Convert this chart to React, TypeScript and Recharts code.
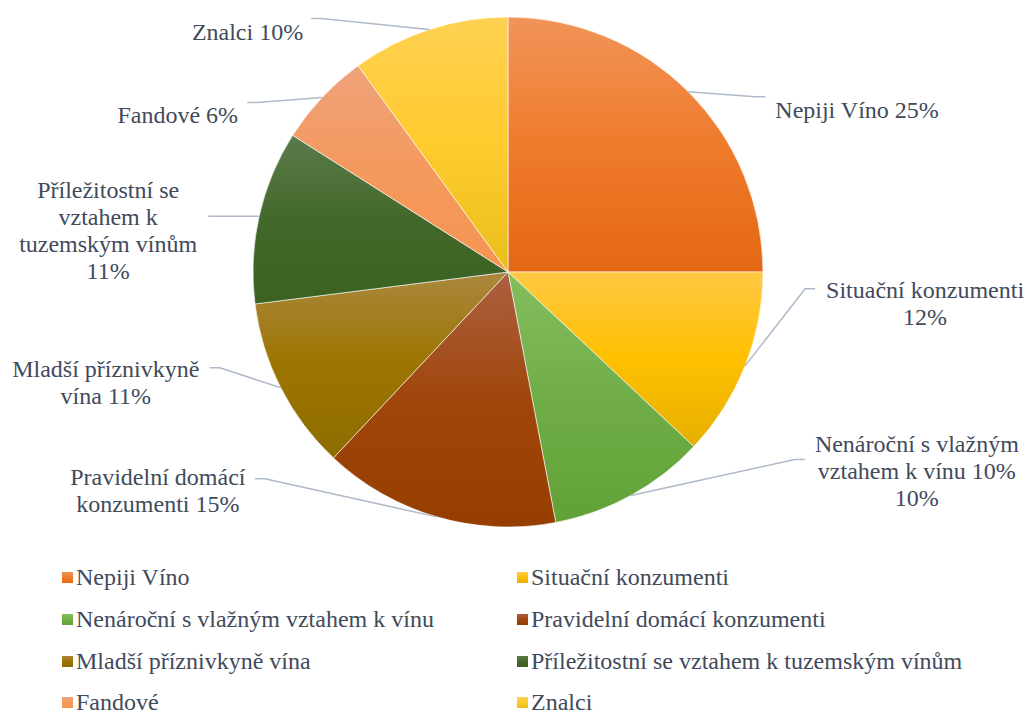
import React from "react";
import { PieChart, Pie, Cell, Legend } from "recharts";

const CATEGORIES = [
  "Nepiji Víno",
  "Situační konzumenti",
  "Nenároční s vlažným vztahem k vínu",
  "Pravidelní domácí konzumenti",
  "Mladší příznivkyně vína",
  "Příležitostní se vztahem k tuzemským vínům",
  "Fandové",
  "Znalci",
];
const VALUES = [25, 12, 10, 15, 11, 11, 6, 10];
const LABEL_LINES: string[][] = [
  ["Nepiji Víno"],
  ["Situační konzumenti"],
  ["Nenároční s vlažným", "vztahem k vínu 10%"],
  ["Pravidelní domácí", "konzumenti"],
  ["Mladší příznivkyně", "vína"],
  ["Příležitostní se", "vztahem k", "tuzemským vínům"],
  ["Fandové"],
  ["Znalci"],
];
// whether percent goes on the same line as the last label line
const PCT_INLINE = [true, false, false, true, true, false, true, true];

const COLORS = [
  { top: "#F19459", mid: "#EF7B2C", bot: "#E46714" },
  { top: "#FFC844", mid: "#FFC000", bot: "#E5AE00" },
  { top: "#84BE5E", mid: "#70AD47", bot: "#62A137" },
  { top: "#AC6040", mid: "#A0460C", bot: "#963D00" },
  { top: "#AB873F", mid: "#9C7500", bot: "#8E6C00" },
  { top: "#5B7B4A", mid: "#43682B", bot: "#3B6221" },
  { top: "#EFA27A", mid: "#F4995E", bot: "#F59550" },
  { top: "#FFD152", mid: "#FFCB2E", bot: "#E8BE1C" },
];

// label layout: end of leader line relative to slice edge point, stub direction, text offset from end
const LABEL_LAYOUT = [
  { ex: 77, ey: 5, side: 1, tx: 10, ty: 13, anchor: "start" },
  { ex: 70, ey: -77, side: 1, tx: 110, ty: 1, anchor: "middle" },
  { ex: 174, ey: -36, side: 1, tx: 112, ty: -15, anchor: "middle" },
  { ex: -182, ey: -38, side: -1, tx: -97, ty: -2, anchor: "middle" },
  { ex: -71, ey: -20, side: -1, tx: -104, ty: 1, anchor: "middle" },
  { ex: -51, ey: 0, side: -1, tx: -100, ty: -26, anchor: "middle" },
  { ex: -75, ey: 5, side: -1, tx: -9, ty: 13, anchor: "end" },
  { ex: -118, ey: -11, side: -1, tx: -8, ty: 14, anchor: "end" },
];

const data = CATEGORIES.map((name, i) => ({ name, value: VALUES[i] }));
const TOTAL = VALUES.reduce((a, b) => a + b, 0);

const TEXT_COLOR = "#414A5B";
const LINE_COLOR = "#AEB9C9";
const FONT = "Liberation Serif";

const RAD = Math.PI / 180;

const renderLabel = (props: any) => {
  const { cx, cy, midAngle, outerRadius, index } = props;
  const lay = LABEL_LAYOUT[index];
  const x0 = cx + outerRadius * Math.cos(-midAngle * RAD);
  const y0 = cy + outerRadius * Math.sin(-midAngle * RAD);
  const x2 = x0 + lay.ex;
  const y2 = y0 + lay.ey;
  const x1 = x2 - lay.side * 10;
  const y1 = y2;
  const pct = Math.round((VALUES[index] / TOTAL) * 100) + "%";
  const lines = [...LABEL_LINES[index]];
  if (PCT_INLINE[index]) lines[lines.length - 1] = lines[lines.length - 1] + " " + pct;
  else lines.push(pct);
  const tx = x2 + lay.tx;
  const ty = y2 + lay.ty;
  return (
    <g key={"lbl" + index}>
      <polyline
        points={`${x0},${y0} ${x1},${y1} ${x2},${y2}`}
        fill="none"
        stroke={LINE_COLOR}
        strokeWidth={1.5}
      />
      <text
        x={tx}
        y={ty}
        textAnchor={lay.anchor}
        fill={TEXT_COLOR}
        dominantBaseline="central"
        style={{ fontFamily: FONT, fontSize: 24 }}
      >
        {lines.map((l, k) => (
          <tspan key={k} x={tx} y={ty + k * 27}>
            {l}
          </tspan>
        ))}
      </text>
    </g>
  );
};

const renderLegend = () => (
  <div
    style={{
      display: "grid",
      gridTemplateColumns: "455px 455px",
      rowGap: 0,
      fontFamily: FONT,
      fontSize: 24,
      color: TEXT_COLOR,
      paddingLeft: 62,
    }}
  >
    {CATEGORIES.map((c, i) => (
      <div
        key={c}
        style={{ display: "flex", alignItems: "center", height: 41.7, whiteSpace: "nowrap" }}
      >
        <span
          style={{
            display: "inline-block",
            width: 11,
            height: 11,
            marginRight: 3,
            background: `linear-gradient(${COLORS[i].top}, ${COLORS[i].mid}, ${COLORS[i].bot})`,
          }}
        />
        <span>{c}</span>
      </div>
    ))}
  </div>
);

export default function App() {
  return (
    <div style={{ position: "absolute", left: 0, top: 0, width: 1024, height: 713, background: "#fff", fontFamily: FONT }}>
      <PieChart width={1024} height={713} margin={{ top: 0, right: 0, bottom: 0, left: 0 }} style={{ fontFamily: FONT }}>
        <defs>
          {COLORS.map((c, i) => (
            <linearGradient key={i} id={"grad" + i} x1="0" y1="0" x2="0" y2="1">
              <stop offset="0%" stopColor={c.top} />
              <stop offset="50%" stopColor={c.mid} />
              <stop offset="100%" stopColor={c.bot} />
            </linearGradient>
          ))}
        </defs>
        <Pie
          data={data}
          dataKey="value"
          nameKey="name"
          cx={508}
          cy={272}
          outerRadius={255}
          startAngle={90}
          endAngle={-270}
          stroke="#ffffff"
          strokeWidth={0.6}
          label={renderLabel}
          labelLine={false}
          isAnimationActive={false}
        >
          {data.map((d, i) => (
            <Cell key={d.name} fill={`url(#grad${i})`} />
          ))}
        </Pie>
        <Legend
          content={renderLegend}
          wrapperStyle={{ position: "absolute", left: 0, top: 557, width: 1024 }}
        />
      </PieChart>
    </div>
  );
}
